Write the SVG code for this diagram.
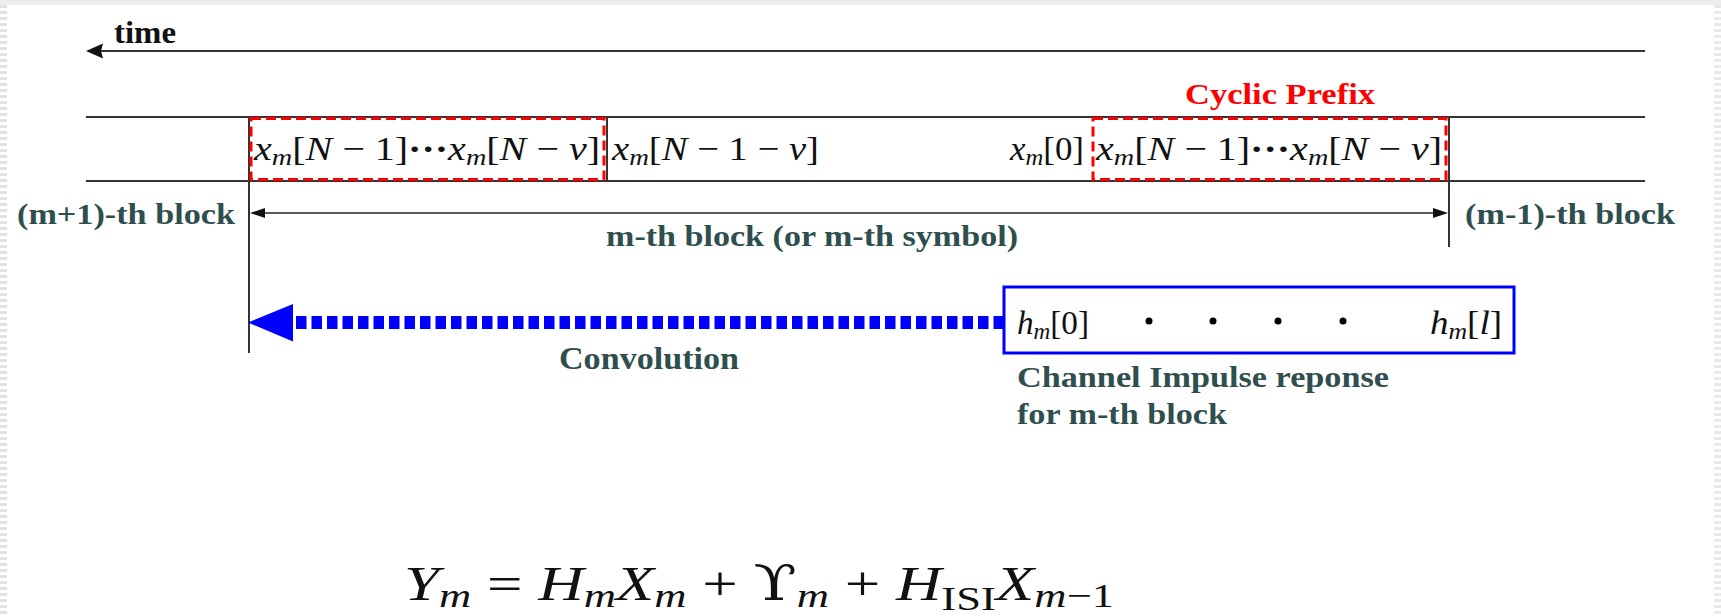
<svg xmlns="http://www.w3.org/2000/svg" width="1721" height="616" viewBox="0 0 1721 616">
<style>
.ln{stroke:#333;stroke-width:2;fill:none}
.thin{stroke:#222;stroke-width:1.6;fill:none}
.cp{stroke:#ff0000;stroke-width:3;stroke-dasharray:10 5;fill:none}
.lbl{font-family:"Liberation Serif","Times New Roman",serif;font-weight:bold;fill:#2f4f4f}
.math{font-family:"Liberation Serif","Times New Roman",serif;fill:#111}
.i{font-style:italic}
</style>
<rect width="1721" height="616" fill="#fff"/>
<g id="frame">
<rect x="0" y="0" width="1721" height="5" fill="#ececec"/>
<line x1="3.5" y1="5" x2="3.5" y2="616" stroke="#e2e2e2" stroke-width="7" stroke-dasharray="3 3"/>
<line x1="1717.5" y1="5" x2="1717.5" y2="616" stroke="#e8e8e8" stroke-width="7" stroke-dasharray="3 3"/>
</g>
<g id="time-axis">
<line class="ln" x1="100" y1="51" x2="1645" y2="51"/>
<path d="M86 51 L103 43.5 L101 51 L103 58.5 Z" fill="#111"/>
<text class="math" x="114" y="43" font-size="32" font-weight="bold" textLength="62" lengthAdjust="spacingAndGlyphs" fill="#000">time</text>
</g>
<g id="connectors">
<line class="ln" x1="86" y1="117" x2="1645" y2="117"/>
<line class="ln" x1="86" y1="181" x2="1645" y2="181"/>
<line class="ln" x1="249" y1="117" x2="249" y2="353"/>
<line class="ln" x1="607" y1="117" x2="607" y2="181"/>
<line class="ln" x1="1449" y1="117" x2="1449" y2="247"/>
<line class="thin" x1="262" y1="213" x2="1437" y2="213"/>
<path d="M250 213 L265 208 L265 218 Z" fill="#111"/>
<path d="M1448 213 L1433 208 L1433 218 Z" fill="#111"/>
<line x1="296" y1="322.5" x2="1004" y2="322.5" stroke="#0000ff" stroke-width="13" stroke-dasharray="10.5 5"/>
<path d="M248 322.5 L293 304 L293 341.5 Z" fill="#0000ff"/>
</g>
<g id="cp-block-left">
<rect class="cp" x="251" y="118.5" width="353" height="61"/>
<text class="math" x="254" y="160" font-size="34" textLength="346" lengthAdjust="spacingAndGlyphs"><tspan class="i">x</tspan><tspan class="i" font-size="24" dy="5">m</tspan><tspan dy="-5">[</tspan><tspan class="i">N</tspan><tspan> − 1]</tspan><tspan font-weight="bold">···</tspan><tspan class="i">x</tspan><tspan class="i" font-size="24" dy="5">m</tspan><tspan dy="-5">[</tspan><tspan class="i">N</tspan><tspan> − </tspan><tspan class="i">ν</tspan><tspan>]</tspan></text>
</g>
<g id="body-block">
<text class="math" x="612" y="160" font-size="34" textLength="207" lengthAdjust="spacingAndGlyphs"><tspan class="i">x</tspan><tspan class="i" font-size="24" dy="5">m</tspan><tspan dy="-5">[</tspan><tspan class="i">N</tspan><tspan> − 1 − </tspan><tspan class="i">ν</tspan><tspan>]</tspan></text>
<text class="math" x="1010" y="160" font-size="34" textLength="74" lengthAdjust="spacingAndGlyphs"><tspan class="i">x</tspan><tspan class="i" font-size="24" dy="5">m</tspan><tspan dy="-5">[0]</tspan></text>
</g>
<g id="cp-block-right">
<rect class="cp" x="1093" y="118.5" width="353" height="61"/>
<text class="math" x="1096" y="160" font-size="34" textLength="346" lengthAdjust="spacingAndGlyphs"><tspan class="i">x</tspan><tspan class="i" font-size="24" dy="5">m</tspan><tspan dy="-5">[</tspan><tspan class="i">N</tspan><tspan> − 1]</tspan><tspan font-weight="bold">···</tspan><tspan class="i">x</tspan><tspan class="i" font-size="24" dy="5">m</tspan><tspan dy="-5">[</tspan><tspan class="i">N</tspan><tspan> − </tspan><tspan class="i">ν</tspan><tspan>]</tspan></text>
<text x="1185" y="104" font-family="Liberation Serif, serif" font-weight="bold" font-size="30" fill="#ff0000" textLength="190" lengthAdjust="spacingAndGlyphs">Cyclic Prefix</text>
</g>
<g id="block-labels">
<text class="lbl" x="17" y="224" font-size="30" textLength="218" lengthAdjust="spacingAndGlyphs">(m+1)-th block</text>
<text class="lbl" x="1465" y="224" font-size="30" textLength="210" lengthAdjust="spacingAndGlyphs">(m-1)-th block</text>
<text class="lbl" x="606" y="246" font-size="30" textLength="412" lengthAdjust="spacingAndGlyphs">m-th block (or m-th symbol)</text>
<text class="lbl" x="559" y="369" font-size="32" textLength="180" lengthAdjust="spacingAndGlyphs">Convolution</text>
</g>
<g id="channel-impulse">
<rect x="1004" y="287" width="510" height="66" fill="none" stroke="#0000ff" stroke-width="3"/>
<text class="math" x="1017" y="334" font-size="33" textLength="72" lengthAdjust="spacingAndGlyphs"><tspan class="i">h</tspan><tspan class="i" font-size="23" dy="5">m</tspan><tspan dy="-5">[0]</tspan></text>
<circle cx="1149" cy="321" r="3.5" fill="#000"/>
<circle cx="1213" cy="321" r="3.5" fill="#000"/>
<circle cx="1278" cy="321" r="3.5" fill="#000"/>
<circle cx="1343" cy="321" r="3.5" fill="#000"/>
<text class="math" x="1430" y="334" font-size="33" textLength="72" lengthAdjust="spacingAndGlyphs"><tspan class="i">h</tspan><tspan class="i" font-size="23" dy="5">m</tspan><tspan dy="-5">[</tspan><tspan class="i">l</tspan><tspan>]</tspan></text>
<text class="lbl" x="1017" y="387" font-size="30" textLength="372" lengthAdjust="spacingAndGlyphs">Channel Impulse reponse</text>
<text class="lbl" x="1017" y="424" font-size="30" textLength="210" lengthAdjust="spacingAndGlyphs">for m-th block</text>
</g>
<g id="equation">
<text class="math" x="404" y="600" font-size="48" textLength="710" lengthAdjust="spacingAndGlyphs"><tspan class="i">Y</tspan><tspan class="i" font-size="34" dy="7">m</tspan><tspan dy="-7"> = </tspan><tspan class="i">H</tspan><tspan class="i" font-size="34" dy="7">m</tspan><tspan class="i" dy="-7">X</tspan><tspan class="i" font-size="34" dy="7">m</tspan><tspan dy="-7"> + </tspan><tspan font-family="DejaVu Serif, serif">ϒ</tspan><tspan class="i" font-size="34" dy="7">m</tspan><tspan dy="-7"> + </tspan><tspan class="i">H</tspan><tspan font-size="34" dy="10">ISI</tspan><tspan class="i" dy="-10">X</tspan><tspan class="i" font-size="34" dy="7">m</tspan><tspan font-size="34">−1</tspan></text>
</g>
</svg>
